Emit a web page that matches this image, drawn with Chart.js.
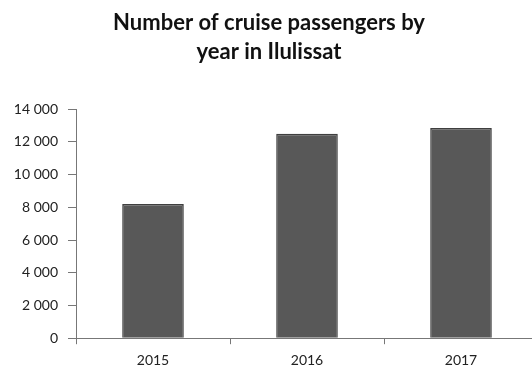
<!DOCTYPE html>
<html>
<head>
<meta charset="utf-8">
<script src="https://cdn.jsdelivr.net/npm/chart.js@4"></script>
<style>
html,body{margin:0;padding:0;background:#fff;overflow:hidden;}
#wrap{position:relative;width:540px;height:369px;}
</style>
</head>
<body>
<div id="wrap"><canvas id="c"></canvas></div>
<script>
const categories = ["2015", "2016", "2017"];
const passengers = [8200, 12500, 12850];
const yTicks = [0, 2000, 4000, 6000, 8000, 10000, 12000, 14000];
const titleLines = ["Number of cruise passengers by", "year in Ilulissat"];

function fmt(v){ return String(v).replace(/\B(?=(\d{3})+(?!\d))/g, " "); }

new Chart(document.getElementById("c"), {
  type: "bar",
  data: {
    labels: categories,
    datasets: [{
      data: passengers,
      backgroundColor: "#585858",
      borderColor: "#3f3f3f",
      borderWidth: 1.5,
      barPercentage: 0.4,
      categoryPercentage: 1.0
    }]
  },
  options: {
    responsive: true,
    maintainAspectRatio: false,
    animation: false,
    layout: { padding: { left: 0, right: 2, top: 0, bottom: -8 } },
    plugins: {
      legend: { display: false },
      tooltip: { enabled: false },
      title: {
        display: true,
        text: titleLines,
        color: "#111",
        font: { family: "Lato", size: 22, weight: "bold", lineHeight: 1.32 },
        padding: { top: 8, bottom: 43 }
      }
    },
    scales: {
      x: {
        grid: { display: true, drawOnChartArea: false, color: "#777", tickLength: 6, offset: true },
        border: { display: true, color: "#777", width: 1 },
        ticks: { color: "#222", font: { family: "Lato", size: 14 }, padding: 8 }
      },
      y: {
        min: 0, max: 14000,
        afterBuildTicks: (axis) => { axis.ticks = yTicks.map(v => ({ value: v })); },
        afterFit: (axis) => { axis.width = 76; },
        grid: { display: true, drawOnChartArea: false, color: "#777", tickLength: 8 },
        border: { display: true, color: "#777", width: 1 },
        ticks: { color: "#222", font: { family: "Lato", size: 14 }, padding: 10,
          callback: (v) => fmt(v) }
      }
    }
  }
});
</script>
</body>
</html>
